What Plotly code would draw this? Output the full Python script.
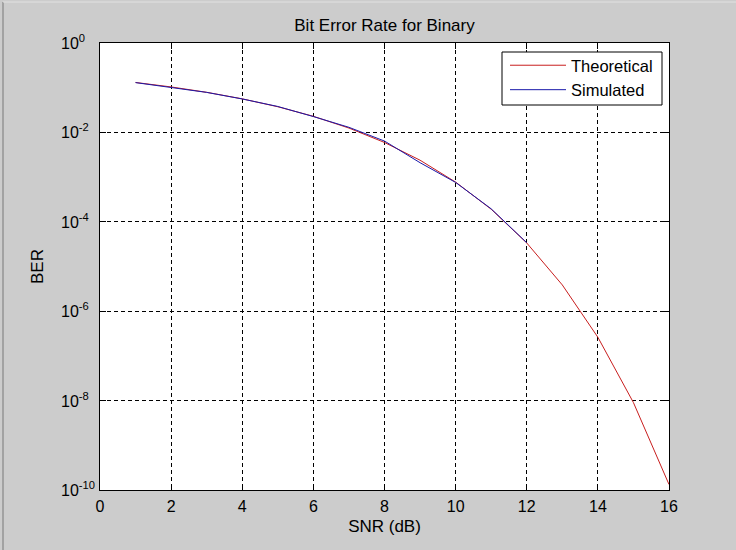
import math
import plotly.graph_objects as go

snr_theory = [1, 2, 3, 4, 5, 6, 7, 8, 9, 10, 11, 12, 13, 14, 15, 16]
ber_theory = [0.131, 0.104, 0.0789, 0.0563, 0.0375, 0.0229, 0.0125, 0.00595,
              0.00239, 7.73e-4, 1.91e-4, 3.36e-5, 3.87e-6, 2.61e-7, 9.01e-9, 1.33e-10]

snr_sim = [1, 2, 3, 4, 5, 6, 7, 8, 9, 10, 11, 12]
ber_sim = [0.130, 0.103, 0.0785, 0.0560, 0.0380, 0.0226, 0.0130, 0.0064,
           0.0021, 7.6e-4, 1.95e-4, 3.4e-5]

x_ticks = [0, 2, 4, 6, 8, 10, 12, 14, 16]
y_ticks = [1e0, 1e-2, 1e-4, 1e-6, 1e-8, 1e-10]
y_tick_exp = ["0", "-2", "-4", "-6", "-8", "-10"]

FONT = "Liberation Sans, Arial, sans-serif"

fig = go.Figure()
fig.add_trace(go.Scatter(x=snr_theory, y=ber_theory, mode="lines", name="Theoretical",
                         line=dict(color="rgb(200,30,30)", width=1)))
fig.add_trace(go.Scatter(x=snr_sim, y=ber_sim, mode="lines", name="Simulated",
                         line=dict(color="rgb(25,25,170)", width=1)))

fig.update_layout(
    width=736, height=550,
    paper_bgcolor="rgb(204,204,204)",
    plot_bgcolor="white",
    margin=dict(l=100, r=67, t=43, b=60, autoexpand=False),
    font=dict(family=FONT, size=16, color="black"),
    title=dict(text="Bit Error Rate for Binary", x=0.5, xref="paper", xanchor="center",
               y=1, yref="paper", yanchor="bottom", pad=dict(b=12),
               font=dict(family=FONT, size=17, color="black")),
    showlegend=True,
    legend=dict(x=(658 - 100) / 569, y=1 - 5 / 447, xanchor="right", yanchor="top",
                bgcolor="rgba(0,0,0,0)", borderwidth=0,
                font=dict(family=FONT, size=16.5, color="black"),
                itemwidth=56, tracegroupgap=0),
)

fig.update_xaxes(
    range=[0, 16], tickvals=x_ticks, ticks="inside", ticklen=6, tickcolor="black",
    showline=True, linecolor="black", linewidth=1, mirror="ticks",
    showgrid=True, gridcolor="black", gridwidth=1, griddash="4px,3px",
    zeroline=False, tickfont=dict(family=FONT, size=16), ticklabelstandoff=2,
    title=dict(text="SNR (dB)", font=dict(family=FONT, size=17), standoff=5),
)
fig.update_yaxes(
    type="log", range=[-10, 0], tickvals=y_ticks, showticklabels=False,
    ticks="inside", ticklen=6, tickcolor="black",
    showline=True, linecolor="black", linewidth=1, mirror="ticks",
    showgrid=True, gridcolor="black", gridwidth=1, griddash="4px,3px",
    zeroline=False,
    title=dict(text="BER", font=dict(family=FONT, size=17), standoff=51),
)

# MATLAB-style log tick labels: left-aligned "10" with raised exponent
for v, e in zip(y_ticks, y_tick_exp):
    fig.add_annotation(x=-41 / 569, xref="paper", xanchor="left",
                       y=math.log10(v), yref="y", yanchor="middle", yshift=1,
                       text="10<sup>" + e + "</sup>", showarrow=False,
                       font=dict(family=FONT, size=16, color="black"))

# legend box (white, black border) drawn over the data, under the legend entries
fig.add_shape(type="rect", xref="paper", yref="paper", layer="above",
              x0=(502 - 100) / 569, x1=(662 - 100) / 569,
              y0=1 - (105 - 43) / 447, y1=1 - (52 - 43) / 447,
              fillcolor="white", line=dict(color="black", width=1))

# figure window edge (left and top)
fig.add_shape(type="line", xref="paper", yref="paper",
              x0=-97 / 569, x1=-97 / 569, y0=-60 / 447, y1=1 + 41 / 447,
              line=dict(color="rgb(120,120,120)", width=1))
fig.add_shape(type="line", xref="paper", yref="paper",
              x0=-97 / 569, x1=1 + 67 / 569, y0=1 + 41 / 447, y1=1 + 41 / 447,
              line=dict(color="rgb(225,225,225)", width=1))

fig.write_html("out.html", config={"displayModeBar": False},
               post_script="document.body.style.margin='0px';")
